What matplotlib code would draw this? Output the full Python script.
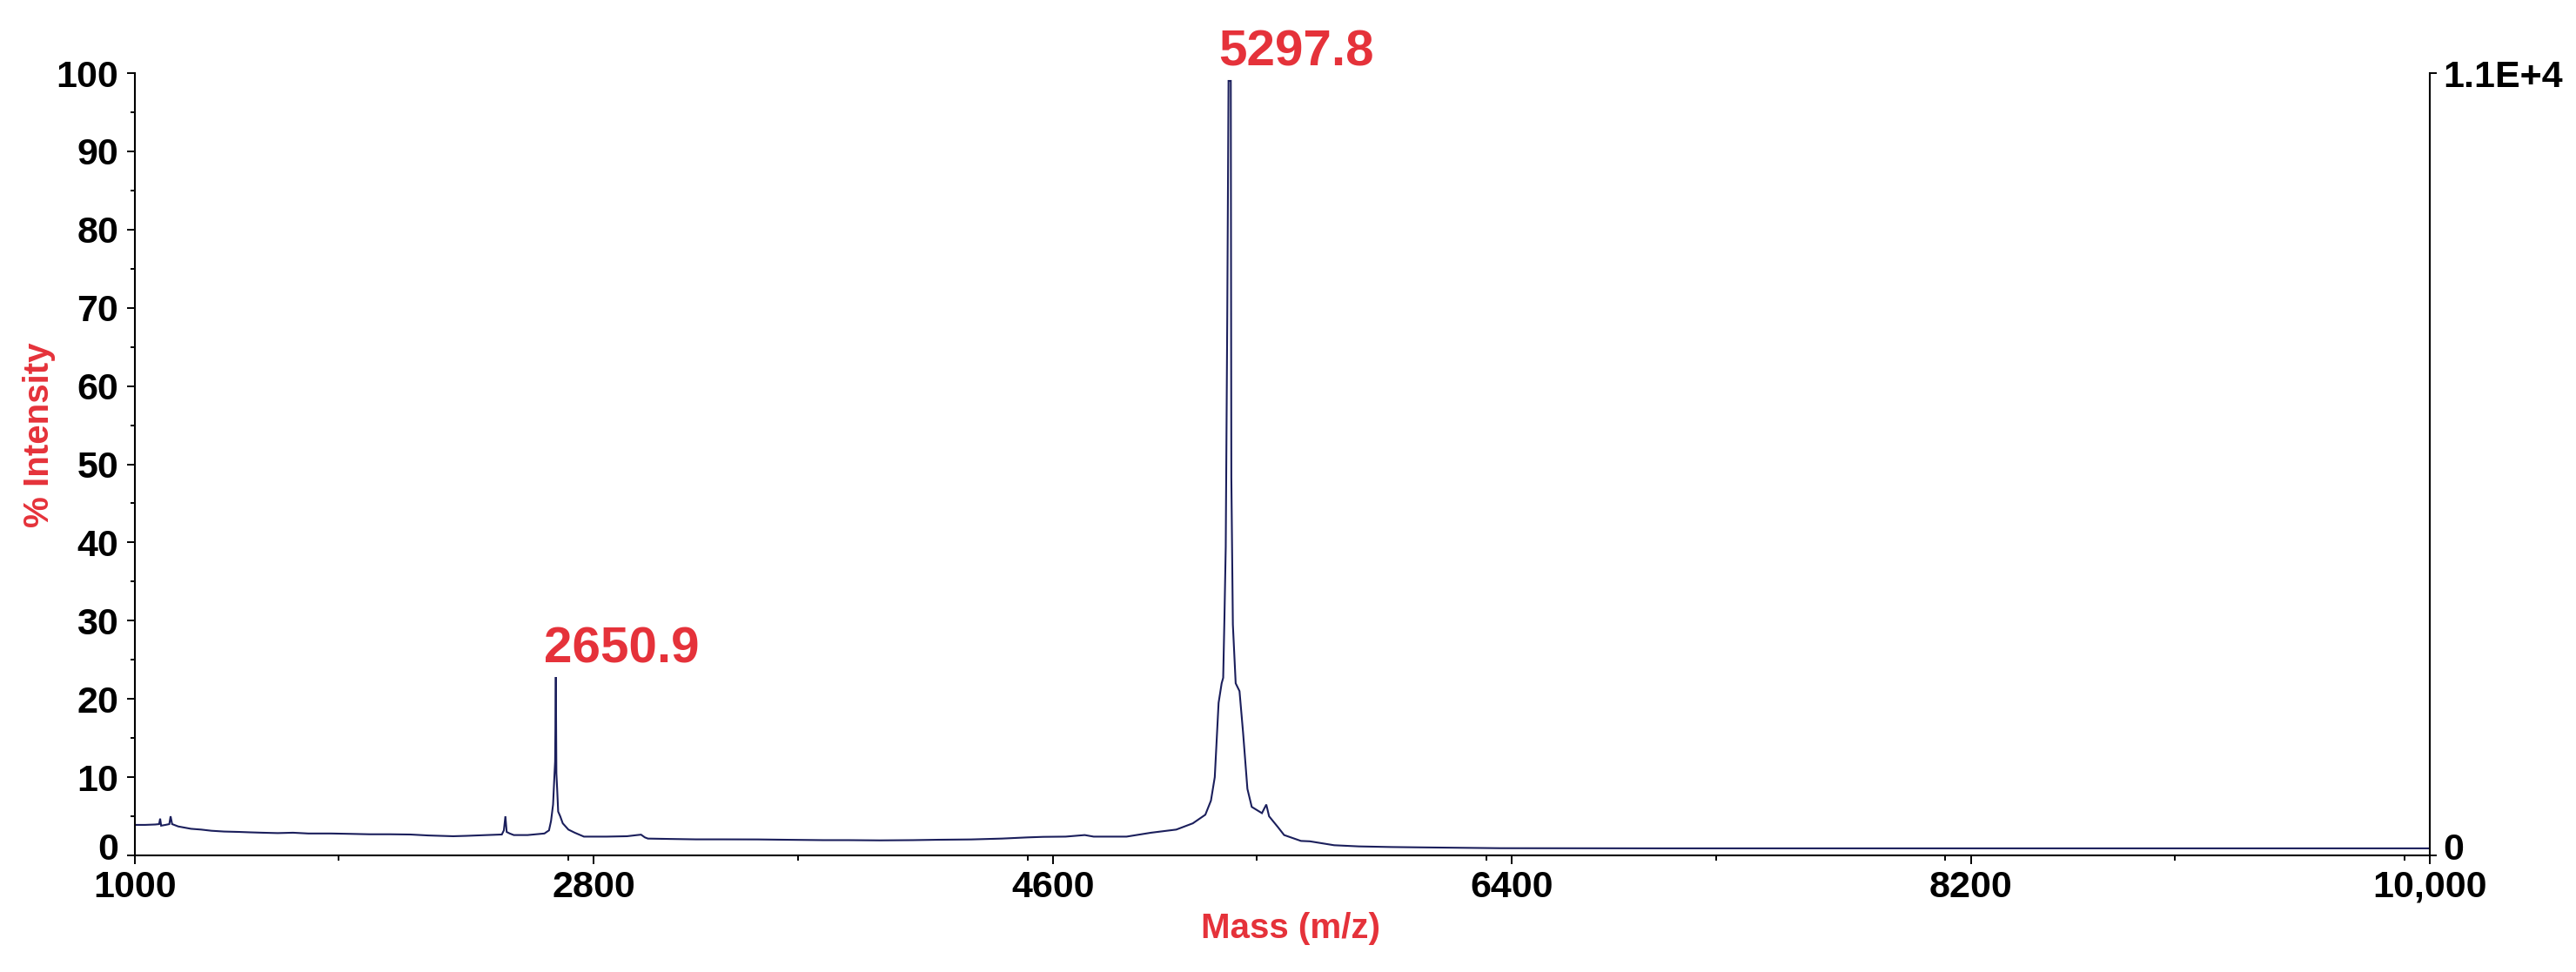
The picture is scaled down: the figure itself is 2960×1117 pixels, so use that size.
import matplotlib
matplotlib.use("Agg")
import matplotlib.pyplot as plt
from matplotlib import font_manager as fm
from matplotlib.ticker import MultipleLocator, FixedLocator
from matplotlib.transforms import ScaledTranslation

# ---------------- data ----------------
mz = [1000, 1040, 1080, 1095, 1099, 1103, 1120, 1135, 1140, 1146, 1170, 1220,
      1260, 1300, 1350, 1409, 1450, 1500, 1560, 1620, 1680, 1769, 1850, 1920,
      2000, 2080, 2150, 2248, 2300, 2380, 2439, 2447, 2453, 2458, 2470, 2486,
      2540, 2606, 2624, 2632, 2640, 2645, 2648, 2650.9, 2653, 2656, 2660, 2668,
      2678, 2700, 2725, 2761, 2850, 2930, 2970, 2985, 3000, 3012, 3100, 3200,
      3300, 3443, 3550, 3700, 3800, 3921, 4050, 4150, 4280, 4400, 4500, 4562,
      4650, 4725, 4760, 4889, 4985, 5084, 5149, 5198, 5220, 5235, 5250, 5262,
      5268, 5273, 5278, 5284, 5289, 5297.8, 5300, 5306, 5317, 5332, 5346, 5363,
      5380, 5420, 5437, 5448, 5483, 5507, 5573, 5608, 5703, 5800, 5926, 6030,
      6355, 7000, 8000, 9000, 10000]
intensity = [3.9, 3.9, 3.95, 4.0, 4.7, 3.8, 3.9, 4.0, 5.0, 4.0, 3.7, 3.4,
             3.3, 3.15, 3.05, 3.0, 2.95, 2.9, 2.85, 2.9, 2.8, 2.8, 2.75, 2.7,
             2.7, 2.67, 2.55, 2.45, 2.5, 2.6, 2.67, 3.2, 5.0, 3.0, 2.8, 2.6,
             2.6, 2.8, 3.2, 4.4, 6.5, 10.0, 12.0, 22.8, 10.5, 8.5, 5.6, 5.0,
             4.1, 3.3, 2.9, 2.4, 2.4, 2.45, 2.6, 2.65, 2.3, 2.15, 2.1, 2.05,
             2.05, 2.04, 2.0, 1.95, 1.95, 1.92, 1.95, 2.0, 2.04, 2.15, 2.3, 2.37,
             2.4, 2.6, 2.4, 2.4, 2.9, 3.3, 4.1, 5.2, 7.0, 10.0, 19.5, 22.0,
             22.7, 30.5, 39.4, 68.9, 99.0, 99.0, 48.3, 29.5, 22.0, 21.0, 15.7, 8.5,
             6.2, 5.4, 6.5, 5.0, 3.6, 2.6, 1.85, 1.8, 1.3, 1.15, 1.07, 1.03,
             0.92, 0.9, 0.9, 0.9, 0.9]

peak_mz = [2650.9, 5297.8]
peak_int = [22.8, 99.0]
peak_labels = ["2650.9", "5297.8"]

x_ticks = [1000, 2800, 4600, 6400, 8200, 10000]
x_tick_labels = ["1000", "2800", "4600", "6400", "8200", "10,000"]
y_ticks = [0, 10, 20, 30, 40, 50, 60, 70, 80, 90, 100]
right_ticks = [0, 100]
right_tick_labels = ["0", "1.1E+4"]

# ---------------- style ----------------
names = {f.name for f in fm.fontManager.ttflist}
base = "Liberation Sans" if "Liberation Sans" in names else "DejaVu Sans"
narrow = "Liberation Sans Narrow" if "Liberation Sans Narrow" in names else base
title_size = 34 if narrow != base else 29

RED = "#E5323A"
LINE = "#1b1f5c"
W, H = 2960, 1117

fig = plt.figure(figsize=(W / 100, H / 100), dpi=100)
ax = fig.add_axes([155 / W, (H - 983) / H, (2792 - 155) / W, (983 - 84) / H])

ax.plot(mz, intensity, color=LINE, lw=1.5, solid_joinstyle="miter")

ax.set_xlim(1000, 10000)
ax.set_ylim(0, 100)

for s in ["top"]:
    ax.spines[s].set_visible(False)
for s in ["left", "right", "bottom"]:
    ax.spines[s].set_linewidth(1.5)
    ax.spines[s].set_color("black")

ax.xaxis.set_major_locator(FixedLocator(x_ticks))
ax.set_xticklabels(x_tick_labels)
ax.xaxis.set_minor_locator(MultipleLocator(900))
ax.yaxis.set_major_locator(FixedLocator(y_ticks))
ax.yaxis.set_minor_locator(MultipleLocator(5))

tick_font = dict(family=base, weight="bold", size=31)
ax.tick_params(axis="y", which="major", direction="out", length=6.5, width=1.4, pad=7)
ax.tick_params(axis="y", which="minor", direction="out", length=3.6, width=1.4)
ax.tick_params(axis="x", which="major", direction="out", length=7.2, width=1.4, pad=5)
ax.tick_params(axis="x", which="minor", direction="out", length=4.3, width=1.4)
for lbl in ax.get_xticklabels() + ax.get_yticklabels():
    lbl.set_fontfamily(base)
    lbl.set_fontweight("bold")
    lbl.set_fontsize(31)

ax2 = ax.twinx()
ax2.set_ylim(0, 100)
for s in ax2.spines.values():
    s.set_visible(False)
ax2.yaxis.set_major_locator(FixedLocator(right_ticks))
ax2.set_yticklabels(right_tick_labels)
ax2.tick_params(axis="y", which="major", direction="out", length=6, width=1.4, pad=5)
for lbl in ax2.get_yticklabels():
    lbl.set_fontfamily(base)
    lbl.set_fontweight("bold")
    lbl.set_fontsize(31)

# nudge bottom "0" labels upward slightly as in the reference
up = ScaledTranslation(0, 0.1, fig.dpi_scale_trans)
ax.get_yticklabels()[0].set_transform(ax.get_yticklabels()[0].get_transform() + up)
ax2.get_yticklabels()[0].set_transform(ax2.get_yticklabels()[0].get_transform() + up)

# axis titles
fig.text(45 / W, 1 - 500 / H, "% Intensity", rotation=90, ha="center", va="center",
         color=RED, fontfamily=narrow, fontweight="bold", fontsize=title_size)
fig.text(1483 / W, 1 - 1067 / H, "Mass (m/z)", ha="center", va="center",
         color=RED, fontfamily=narrow, fontweight="bold", fontsize=title_size)

# peak labels
for px, py, t in zip(peak_mz, peak_int, peak_labels):
    ax.annotate(t, xy=(px, py), xytext=(-14, 17), textcoords="offset pixels",
                ha="left", va="baseline", color=RED, fontfamily=base,
                fontweight="bold", fontsize=42, annotation_clip=False)

fig.savefig("out.png", dpi=100, facecolor="white")
